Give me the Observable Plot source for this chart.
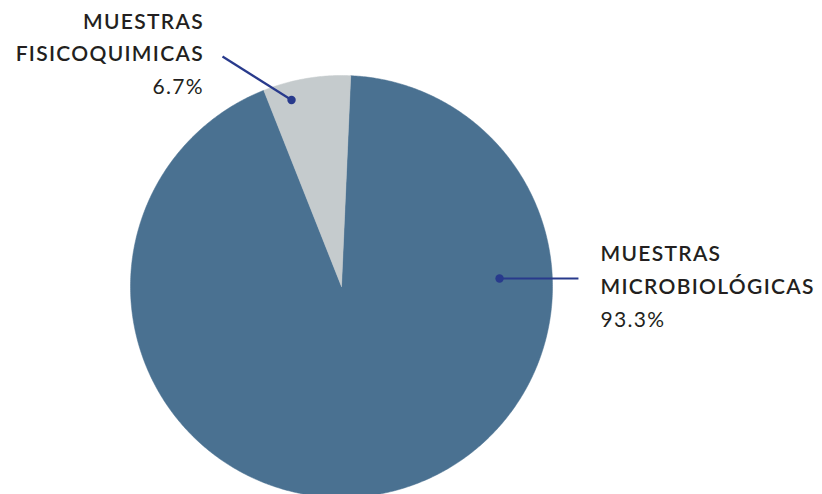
<!DOCTYPE html>
<html>
<head>
<meta charset="utf-8">
<script src="https://cdn.jsdelivr.net/npm/d3@7"></script>
<script src="https://cdn.jsdelivr.net/npm/@observablehq/plot@0.6"></script>
<style>
  html, body { margin: 0; padding: 0; background: #ffffff; }
  #chart svg { display: block; }
</style>
</head>
<body>
<div id="chart"></div>
<script>
// ---- data ----
const categories = ["MUESTRAS\nMICROBIOLÓGICAS", "MUESTRAS\nFISICOQUIMICAS"];
const values = [93.3, 6.7];
const percentLabels = ["93.3%", "6.7%"];
const colors = ["#4a7191", "#c5cbcd"];

// ---- layout (unit-circle coordinates, y up) ----
const startDeg = 2.5;
const labelLayout = [
  { dotAngle: 87.1, dotR: 0.75, lineTo: [1.123, 0.038], text: [1.2275, -0.194], anchor: "start" },
  { dotAngle: -15.0, dotR: 0.915, lineTo: [-0.564, 1.090], text: [-0.652, 0.910], anchor: "end" }
];

const rad = d => d * Math.PI / 180;
const pie = d3.pie().sort(null).value(d => d.value)
  .startAngle(rad(startDeg)).endAngle(rad(startDeg) + 2 * Math.PI);
const rows = categories.map((c, i) => ({ name: c, value: values[i], pct: percentLabels[i], color: colors[i] }));
const arcs = pie(rows);

// polygon points for each slice
const slicePts = [];
arcs.forEach((a, i) => {
  slicePts.push({ k: i, x: 0, y: 0, color: a.data.color });
  const n = Math.max(8, Math.ceil((a.endAngle - a.startAngle) / rad(0.5)));
  for (let j = 0; j <= n; j++) {
    const t = a.startAngle + (a.endAngle - a.startAngle) * j / n;
    slicePts.push({ k: i, x: Math.sin(t), y: Math.cos(t), color: a.data.color });
  }
  slicePts.push({ k: i, x: 0, y: 0, color: a.data.color });
});

const labels = rows.map((r, i) => {
  const L = labelLayout[i];
  const t = rad(L.dotAngle);
  return {
    name: r.name, pct: r.pct, anchor: L.anchor,
    dx0: L.dotR * Math.sin(t), dy0: L.dotR * Math.cos(t),
    x1: L.lineTo[0], y1: L.lineTo[1],
    tx: L.text[0], ty: L.text[1]
  };
});

const lineColor = "#283a8c";
const textColor = "#231f20";
const font = "Lato, 'Open Sans', sans-serif";

const textMarks = labels.flatMap(l => [
  Plot.text([l], {
    x: "tx", y: "ty", text: "name", textAnchor: l.anchor, lineAnchor: "bottom",
    dy: -33, lineHeight: 1.57, fontSize: 21, fontWeight: 600, fill: textColor
  }),
  Plot.text([l], {
    x: "tx", y: "ty", text: "pct", textAnchor: l.anchor, lineAnchor: "bottom",
    fontSize: 21, fontWeight: 400, fill: textColor
  })
]);

const chart = Plot.plot({
  width: 822,
  height: 494,
  margin: 0,
  style: { fontFamily: font, background: "#ffffff", overflow: "hidden", letterSpacing: "1.3px" },
  x: { domain: [-1, 1], range: [130, 552], axis: null },
  y: { domain: [-1, 1], range: [497, 75], axis: null },
  marks: [
    Plot.line(slicePts, { x: "x", y: "y", z: "k", fill: "color", stroke: "color", strokeWidth: 0.5, curve: "linear" }),
    Plot.link(labels, { x1: "dx0", y1: "dy0", x2: "x1", y2: "y1", stroke: lineColor, strokeWidth: 2.2 }),
    Plot.dot(labels, { x: "dx0", y: "dy0", r: 4.2, fill: lineColor }),
    ...textMarks
  ]
});

document.getElementById("chart").appendChild(chart);
</script>
</body>
</html>
